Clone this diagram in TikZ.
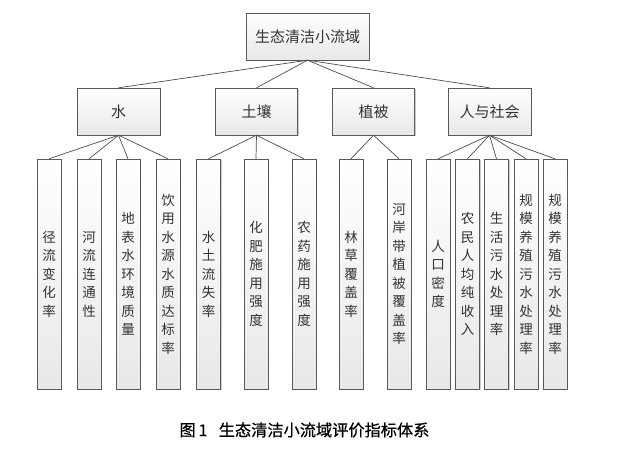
\documentclass[tikz,border=0pt]{standalone}
\usepackage{fontspec}
\setmainfont{Noto Sans CJK SC}
\newfontfamily\capfont[FakeBold=0.7]{Noto Sans CJK SC}
\usetikzlibrary{shadows}
\tikzset{
headbox/.style={rectangle,draw=black!65,top color=white,bottom color=black!9,
  drop shadow={shadow xshift=1.2pt,shadow yshift=-1.2pt,fill=black!40},
  minimum height=47pt,inner sep=0pt,text=black!80,font=\fontsize{15}{18}\selectfont},
leafbox/.style={rectangle,draw=black!65,top color=white,bottom color=black!9,
  drop shadow={shadow xshift=1.2pt,shadow yshift=-1.2pt,fill=black!40},
  minimum width=24pt,minimum height=230pt,inner sep=0pt,align=center,
  text=black!80,font=\fontsize{13.5}{18.5}\selectfont},
treeline/.style={draw=black!70,line width=0.7pt}
}

\begin{document}
\begin{tikzpicture}[x=1pt,y=-1pt]
\useasboundingbox (0,0) rectangle (627,461);
\node[headbox,minimum width=123pt] (root) at (307.5,36.5) {生态清洁小流域};
\node[headbox,minimum width=83pt] (water) at (118.5,111.5) {水};
\node[headbox,minimum width=82pt] (soil) at (256.5,111.5) {土壤};
\node[headbox,minimum width=82pt] (veg) at (373.5,111.5) {植被};
\node[headbox,minimum width=83pt] (soc) at (489.5,111.5) {人与社会};
% indicators under water
\node[leafbox] (runoff) at (49,274) {径\\流\\变\\化\\率};
\node[leafbox] (connect) at (89,274) {河\\流\\连\\通\\性};
\node[leafbox] (surface) at (128,274) {地\\表\\水\\环\\境\\质\\量};
\node[leafbox] (drink) at (168,274) {饮\\用\\水\\源\\水\\质\\达\\标\\率};
% indicators under soil
\node[leafbox] (erosion) at (208.5,274) {水\\土\\流\\失\\率};
\node[leafbox] (fert) at (256,274) {化\\肥\\施\\用\\强\\度};
\node[leafbox] (pest) at (304,274) {农\\药\\施\\用\\强\\度};
% indicators under vegetation
\node[leafbox] (forest) at (351,274) {林\\草\\覆\\盖\\率};
\node[leafbox] (bank) at (399,274) {河\\岸\\带\\植\\被\\覆\\盖\\率};
% indicators under society
\node[leafbox] (popu) at (438,274) {人\\口\\密\\度};
\node[leafbox] (income) at (467.5,274) {农\\民\\人\\均\\纯\\收\\入};
\node[leafbox] (sewage) at (496.5,274) {生\\活\\污\\水\\处\\理\\率};
\node[leafbox] (farm) at (526,274) {规\\模\\养\\殖\\污\\水\\处\\理\\率};
\node[leafbox] (farmb) at (555,274) {规\\模\\养\\殖\\污\\水\\处\\理\\率};
\node[font=\capfont\fontsize{16.2}{19}\selectfont] (cap) at (304.5,430) {图\,1\hspace{0.7em}生态清洁小流域评价指标体系};
\draw[treeline] (root.south) -- (water.north);
\draw[treeline] (root.south) -- (soil.north);
\draw[treeline] (root.south) -- (veg.north);
\draw[treeline] (root.south) -- (soc.north);
\draw[treeline] (water.south) -- (runoff.north);
\draw[treeline] (water.south) -- (connect.north);
\draw[treeline] (water.south) -- (surface.north);
\draw[treeline] (water.south) -- (drink.north);
\draw[treeline] (soil.south) -- (erosion.north);
\draw[treeline] (soil.south) -- (fert.north);
\draw[treeline] (soil.south) -- (pest.north);
\draw[treeline] (veg.south) -- (forest.north);
\draw[treeline] (veg.south) -- (bank.north);
\draw[treeline] (soc.south) -- (popu.north);
\draw[treeline] (soc.south) -- (income.north);
\draw[treeline] (soc.south) -- (sewage.north);
\draw[treeline] (soc.south) -- (farm.north);
\draw[treeline] (soc.south) -- (farmb.north);
\end{tikzpicture}
\end{document}
